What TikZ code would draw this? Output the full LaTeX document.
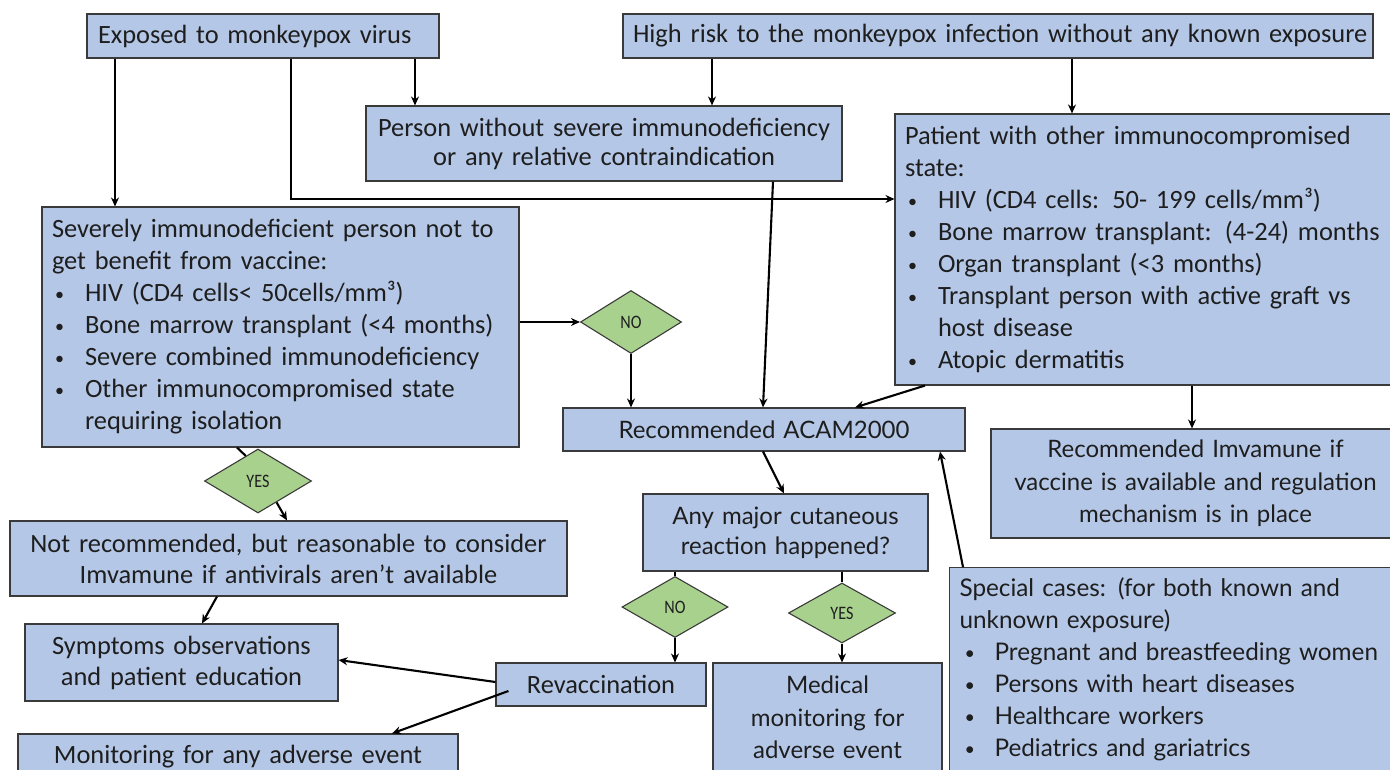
\documentclass[tikz,border=0pt]{standalone}
\usepackage{fontspec}
\setmainfont{Carlito}
\newfontfamily\corb{Lato}
\usetikzlibrary{shapes.geometric,arrows.meta}
\definecolor{boxc}{HTML}{B4C7E7}
\definecolor{dmc}{HTML}{A9D18E}
\definecolor{bordc}{HTML}{3A3A3A}
\definecolor{txtc}{HTML}{1E1E1E}
\newcommand\bul{\raisebox{1pt}{\fontsize{18}{18}\selectfont\textbullet}}
\newcommand\itm{\makebox[33pt][l]{\hspace{3pt}\bul}}
\newcommand\itmb{\makebox[35pt][l]{\hspace{5pt}\bul}}
\newcommand\ind{\hspace*{33pt}}
\newcommand\dtxt[1]{\scalebox{0.85}[1]{#1}}
\tikzset{
  bx/.style={draw=bordc, fill=boxc, line width=1.1pt, inner xsep=10pt, inner ysep=0pt,
    font=\fontsize{26.4}{32}\selectfont, text=txtc},
  bxl/.style={bx, align=left},
  bxc/.style={bx, align=center},
  cf/.style={font=\corb\fontsize{24}{32.5}\selectfont},
  dm/.style={diamond, draw=bordc, fill=dmc, line width=1.1pt, inner sep=0pt,
    font=\fontsize{19}{20}\selectfont, text=txtc},
  arr/.style={-{Stealth[length=9pt,width=8pt]}, line width=2.1pt, draw=black},
  ln/.style={line width=2.1pt, draw=black}
}
\begin{document}
\begin{tikzpicture}[x=1pt,y=-1pt]
\useasboundingbox (0,0) rectangle (1390,770);
\clip (0,0) rectangle (1390,770);
\fill[white] (0,0) rectangle (1390,770);
% boxes
\node[bxl, minimum width=352pt, minimum height=44pt, text width=330pt] (exp) at (263,36) {\raisebox{-2pt}{Exposed to monkeypox virus}};
\node[bxl, minimum width=750pt, minimum height=44pt, text width=730pt] (high) at (998,36) {\raisebox{-2pt}{High risk to the monkeypox infection without any known exposure}};
\node[bxc, minimum width=476pt, minimum height=75pt, text width=456pt, font=\fontsize{26.4}{29}\selectfont] (person) at (604,143.5) {Person without severe immunodeficiency\\or any relative contraindication};
\node[bxl, minimum width=505pt, minimum height=271pt, text width=485pt] (patient) at (1147.5,249.5) {Patient with other immunocompromised\\state:\\\itm HIV (CD4 cells: 50- 199 cells/mm³)\\\itm Bone marrow transplant: (4-24) months\\\itm Organ transplant (<3 months)\\\itm Transplant person with active graft vs\\\ind host disease\\\itm Atopic dermatitis};
\node[bxl, minimum width=477pt, minimum height=240pt, text width=457pt] (severe) at (280.5,327) {Severely immunodeficient person not to\\get benefit from vaccine:\\\itm HIV (CD4 cells< 50cells/mm³)\\\itm Bone marrow transplant (<4 months)\\\itm Severe combined immunodeficiency\\\itm Other immunocompromised state\\\ind requiring isolation};
\node[bxc, cf, minimum width=402pt, minimum height=43pt, text width=382pt] (acam) at (764,429.5) {Recommended ACAM2000};
\node[bxc, minimum width=557pt, minimum height=75pt, text width=537pt, font=\fontsize{26.4}{31}\selectfont] (notrec) at (288.5,558.5) {Not recommended, but reasonable to consider\\Imvamune if antivirals aren’t available};
\node[bxc, cf, minimum width=285pt, minimum height=77pt, text width=265pt, font=\corb\fontsize{24}{30}\selectfont] (anymaj) at (785.5,532.5) {Any major cutaneous\\reaction happened?};
\node[bxc, cf, minimum width=409pt, minimum height=109pt, text width=389pt] (imv) at (1195.5,483.5) {Recommended Imvamune if\\vaccine is available and regulation\\mechanism is in place};
\node[bxl, cf, anchor=north west, minimum width=451pt, minimum height=240pt, text width=431pt, inner ysep=10pt, font=\corb\fontsize{24.3}{32}\selectfont] (special) at (949,567) {Special cases: (for both known and\\unknown exposure)\\\itmb Pregnant and breastfeeding women\\\itmb Persons with heart diseases\\\itmb Healthcare workers\\\itmb Pediatrics and gariatrics\\\mbox{}\\\mbox{}};
\node[bxc, minimum width=313pt, minimum height=77pt, text width=293pt, font=\fontsize{26.4}{31}\selectfont] (symp) at (181.5,662.5) {Symptoms observations\\and patient education};
\node[bxc, minimum width=210pt, minimum height=43pt, text width=190pt] (revacc) at (601,684.5) {Revaccination};
\node[bxc, cf, minimum width=229pt, minimum height=109pt, text width=209pt] (medical) at (827.5,717.5) {Medical\\monitoring for\\adverse event};
\node[bxc, minimum width=440pt, minimum height=46pt, text width=420pt] (monitor) at (238,757) {Monitoring for any adverse event};
% diamonds
\node[dm, minimum width=101pt, minimum height=63pt] (noA) at (631,322) {\dtxt{NO}};
\node[dm, minimum width=107pt, minimum height=64pt] (yesA) at (258,481) {\dtxt{YES}};
\node[dm, minimum width=106pt, minimum height=61pt] (noB) at (675,607) {\dtxt{NO}};
\node[dm, minimum width=107pt, minimum height=60pt] (yesB) at (842,613) {\dtxt{YES}};
% connectors
\draw[arr] (115,0 |- exp.south) -- (115,0 |- severe.north);
\draw[arr] (291,0 |- exp.south) |- (patient.west |- 0,199);
\draw[arr] (415,0 |- exp.south) -- (415,0 |- person.north);
\draw[arr] (712,0 |- high.south) -- (712,0 |- person.north);
\draw[arr] (1072,0 |- high.south) -- (1072,0 |- patient.north);
\draw[arr] (773,0 |- person.south) -- (763,0 |- acam.north);
\draw[arr] (925,0 |- patient.south) -- (855,0 |- acam.north);
\draw[arr] (1192,0 |- patient.south) -- (1192,0 |- imv.north);
\draw[arr] (severe.east |- noA.west) -- (noA.west);
\draw[arr] (noA.south) -- (noA.south |- acam.north);
\draw[ln] (237,0 |- severe.south) -- (yesA.116);
\draw[arr] (yesA.-49) -- (287,0 |- notrec.north);
\draw[arr] (217,0 |- notrec.south) -- (202,0 |- symp.north);
\draw[arr] (revacc.west |- 0,682) -- (symp.east |- 0,660);
\draw[arr] ([xshift=13pt,yshift=-6.5pt]revacc.west) -- (392,0 |- monitor.north);
\draw[arr] (763,0 |- acam.south) -- (784,0 |- anymaj.north);
\draw[ln] (noB.north |- anymaj.south) -- (noB.north);
\draw[arr] (noB.south) -- (noB.south |- revacc.north);
\draw[ln] (yesB.north |- anymaj.south) -- (yesB.north);
\draw[arr] (yesB.south) -- (yesB.south |- medical.north);
\draw[arr] (963,0 |- special.north) -- (940,0 |- acam.south);
\end{tikzpicture}
\end{document}
